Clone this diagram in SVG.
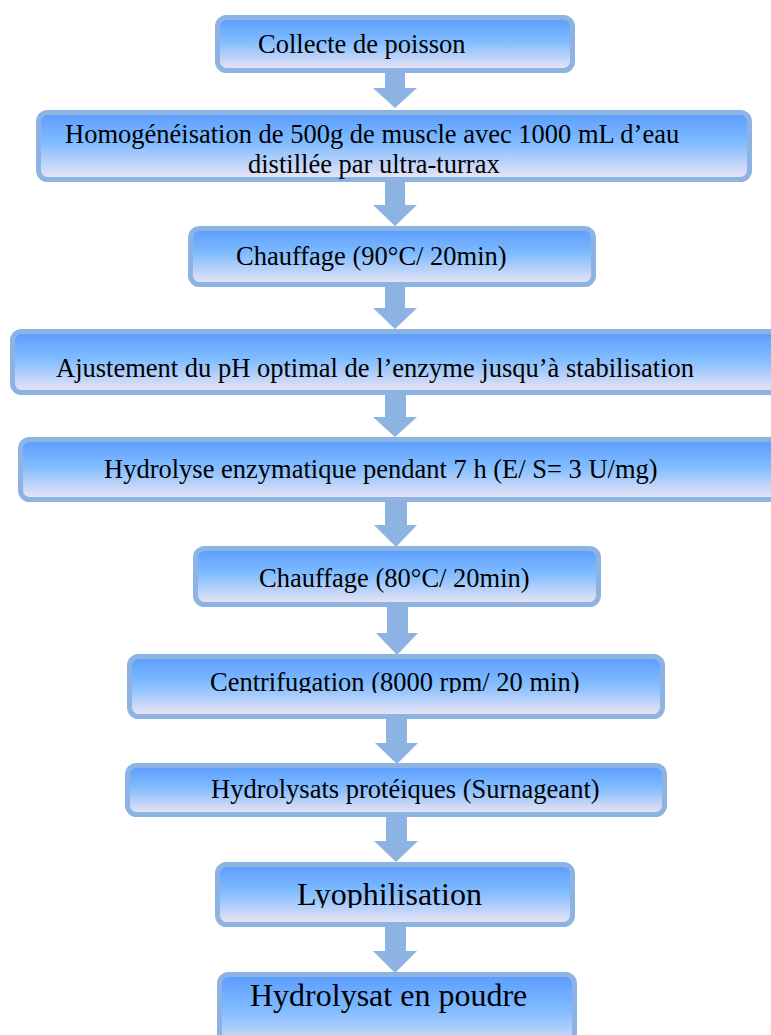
<svg xmlns="http://www.w3.org/2000/svg" width="771" height="1035" viewBox="0 0 771 1035">
<defs>
<linearGradient id="g" x1="0" y1="0" x2="0" y2="1">
<stop offset="0" stop-color="#5a9cff"/>
<stop offset="0.45" stop-color="#80bcff"/>
<stop offset="1" stop-color="#eee6f4"/>
</linearGradient>
<clipPath id="c7"><rect x="0" y="0" width="771" height="693"/></clipPath>
<clipPath id="c9"><rect x="0" y="0" width="771" height="908"/></clipPath>
<style>
.box{fill:url(#g);stroke:#8db3e2;stroke-width:5}
.t{font-family:"Liberation Serif","Times New Roman",serif;font-size:26.5px;fill:#000}
.tl{font-family:"Liberation Serif","Times New Roman",serif;font-size:32px;fill:#000}
.arr{fill:#8db3e2}
</style>
</defs>
<rect width="771" height="1035" fill="#fff"/>
<g id="connectors">
<path class="arr" d="M385,72 H405 V88 H417 L395,108 L373,88 H385 Z"/>
<path class="arr" d="M385,182 H405 V205 H417 L395,226 L373,205 H385 Z"/>
<path class="arr" d="M385,286 H405 V308 H417 L395,329 L373,308 H385 Z"/>
<path class="arr" d="M385,394 H406 V417 H417 L395,437 L373,417 H385 Z"/>
<path class="arr" d="M385,501 H407 V525 H417 L396,547 L374,525 H385 Z"/>
<path class="arr" d="M387,606 H408 V633 H418 L397,655 L376,633 H387 Z"/>
<path class="arr" d="M386,718 H407 V743 H418 L397,764 L375,743 H386 Z"/>
<path class="arr" d="M386,816 H407 V841 H418 L396,862 L374,841 H386 Z"/>
<path class="arr" d="M385,926 H406 V951 H417 L395,973 L373,951 H385 Z"/>
</g>
<g id="n1"><rect class="box" x="217.5" y="17.5" width="355" height="53" rx="9"/><text class="t" x="258" y="53">Collecte de poisson</text></g>
<g id="n2"><rect class="box" x="38.5" y="112.5" width="711" height="67" rx="9"/><text class="t" x="65" y="143">Homogénéisation de 500g de muscle avec 1000 mL d’eau</text><text class="t" x="248" y="173">distillée par ultra-turrax</text></g>
<g id="n3"><rect class="box" x="190.5" y="228.5" width="403" height="56" rx="9"/><text class="t" x="236" y="265">Chauffage (90°C/ 20min)</text></g>
<g id="n4"><rect class="box" x="12.5" y="331.5" width="770" height="61" rx="9"/><text class="t" x="56" y="377">Ajustement du pH optimal de l’enzyme jusqu’à stabilisation</text></g>
<g id="n5"><rect class="box" x="20.5" y="439.5" width="770" height="60" rx="9"/><text class="t" x="104" y="478">Hydrolyse enzymatique pendant 7 h (E/ S= 3 U/mg)</text></g>
<g id="n6"><rect class="box" x="195.5" y="548.5" width="403" height="56" rx="9"/><text class="t" x="259" y="587">Chauffage (80°C/ 20min)</text></g>
<g id="n7"><rect class="box" x="129.5" y="656.5" width="533" height="60" rx="9"/><text class="t" x="210" y="691" clip-path="url(#c7)">Centrifugation (8000 rpm/ 20 min)</text></g>
<g id="n8"><rect class="box" x="127.5" y="765.5" width="537" height="49" rx="9"/><text class="t" x="211" y="798">Hydrolysats protéiques (Surnageant)</text></g>
<g id="n9"><rect class="box" x="217.5" y="864.5" width="355" height="60" rx="9"/><text class="tl" x="297" y="905" clip-path="url(#c9)">Lyophilisation</text></g>
<g id="n10"><rect class="box" x="219.5" y="974.5" width="355" height="80" rx="9"/><text class="tl" x="250" y="1006">Hydrolysat en poudre</text></g>
</svg>
